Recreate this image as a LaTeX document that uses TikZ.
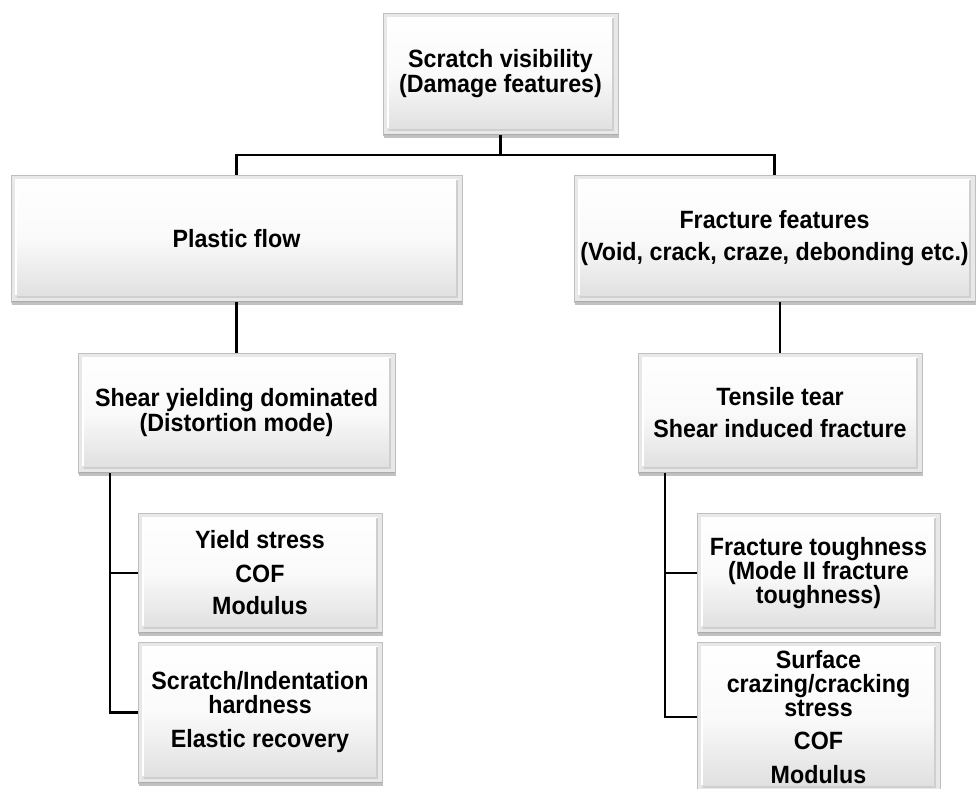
\documentclass[tikz,border=0pt]{standalone}
\usepackage{fontspec}
\setmainfont{Liberation Sans}[FakeStretch=0.93]
\usetikzlibrary{shadows}
\tikzset{
  bevbox/.style={rectangle, draw=gray!50, line width=0.8pt,
    top color=white, bottom color=gray!26, middle color=gray!4,
    inner sep=2pt, align=center,
    font=\fontsize{25}{24}\selectfont\bfseries,
    drop shadow={shadow xshift=1pt, shadow yshift=-2.5pt, fill=gray!60, opacity=0.8},
    path picture={
      \draw[gray!18, line width=4pt]
        ([xshift=2pt,yshift=2pt]path picture bounding box.south west) rectangle
        ([xshift=-2pt,yshift=-2pt]path picture bounding box.north east);
      \draw[white, line width=2pt]
        ([xshift=5pt,yshift=7pt]path picture bounding box.south west) --
        ([xshift=5pt,yshift=-5pt]path picture bounding box.north west) --
        ([xshift=-6pt,yshift=-5pt]path picture bounding box.north east);
      \draw[gray!38, line width=1.5pt]
        ([xshift=-5pt,yshift=-5pt]path picture bounding box.north east) --
        ([xshift=-5pt,yshift=5pt]path picture bounding box.south east) --
        ([xshift=6pt,yshift=5pt]path picture bounding box.south west);
      \draw[gray!65, line width=1.5pt]
        (path picture bounding box.south west) -- (path picture bounding box.south east);
    }},
  conn/.style={draw=black, line width=2.2pt}
}
\begin{document}
\begin{tikzpicture}[x=1pt,y=-1pt]
\useasboundingbox (0,0) rectangle (980,788);
\clip (0,0) rectangle (980,788);
\fill[white] (0,0) rectangle (980,788);

\node[bevbox, minimum width=235pt, minimum height=122pt] (top) at (500.5,74)
  {Scratch visibility\\[1pt](Damage features)};
\node[bevbox, minimum width=451pt, minimum height=127pt] (plastic) at (236.5,238.5)
  {Plastic flow};
\node[bevbox, minimum width=401pt, minimum height=127pt] (fracture) at (774.5,238.5)
  {Fracture features\\[8pt](Void, crack, craze, debonding etc.)};
\node[bevbox, minimum width=317pt, minimum height=120pt] (shear) at (236.5,413)
  {Shear yielding dominated\\[1pt](Distortion mode)};
\node[bevbox, minimum width=284pt, minimum height=120pt] (tensile) at (780,413)
  {Tensile tear\\[8pt]Shear induced fracture};
\node[bevbox, minimum width=244pt, minimum height=120pt] (yield) at (260,573)
  {Yield stress\\[10pt]COF\\[8pt]Modulus};
\node[bevbox, minimum width=244pt, minimum height=141pt] (scratch) at (260,712.5)
  {Scratch/Indentation\\hardness\\[10pt]Elastic recovery};
\node[bevbox, minimum width=243pt, minimum height=120pt] (tough) at (818.5,573)
  {Fracture toughness\\(Mode II fracture\\toughness)};
\node[bevbox, minimum width=243pt, minimum height=150pt] (surface) at (818.5,717)
  {Surface\\crazing/cracking\\stress\\[9pt]COF\\[10pt]Modulus};

\coordinate (lx) at (110,0);
\coordinate (rx) at (665,0);

\draw[conn] (top.south) -- ++(0,20);
\draw[conn] (plastic.north) -- ++(0,-20) -| (fracture.north);
\draw[conn] (plastic.south) -- (shear.north);
\draw[conn] (fracture.south -| tensile.north) -- (tensile.north);
\draw[conn] (shear.south -| lx) |- (scratch.west);
\draw[conn] (yield.west) -- (yield.west -| lx);
\draw[conn] (tensile.south -| rx) |- (surface.west);
\draw[conn] (tough.west) -- (tough.west -| rx);
\end{tikzpicture}
\end{document}
